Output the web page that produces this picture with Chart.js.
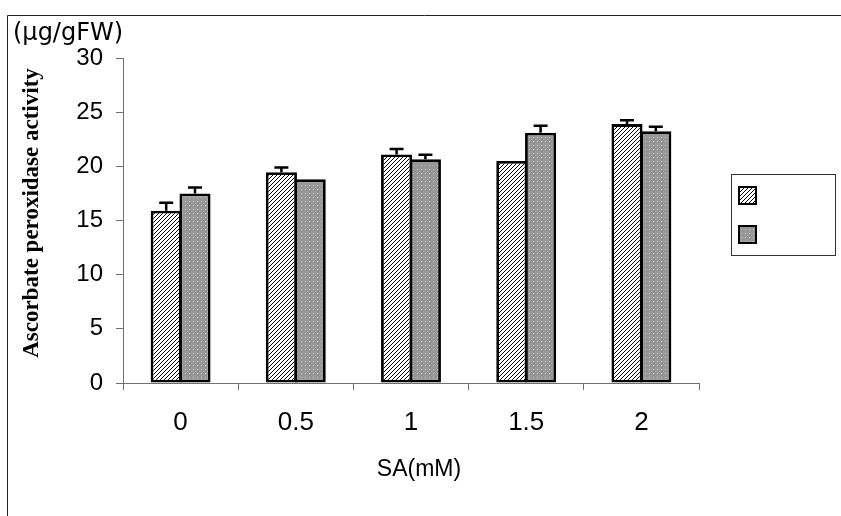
<!DOCTYPE html>
<html>
<head>
<meta charset="utf-8">
<script src="https://cdn.jsdelivr.net/npm/chart.js@4"></script>
<style>
  html, body { margin: 0; padding: 0; background: #fff; }
</style>
</head>
<body>
<canvas id="myChart" width="841" height="516"></canvas>
<script>
const categories = ['0', '0.5', '1', '1.5', '2'];
const seriesA = [15.9, 19.45, 21.1, 20.5, 23.9];   // hatched bars
const seriesB = [17.5, 18.8, 20.65, 23.1, 23.25];  // grey dotted bars
const errorA = [0.75, 0.45, 0.5, 0, 0.35];
const errorB = [0.55, 0, 0.42, 0.65, 0.4];
const yTicks = [0, 5, 10, 15, 20, 25, 30];
const unitLabel = '(\u00b5g/gFW)';
const yTitle = 'Ascorbate peroxidase activity';
const xTitle = 'SA(mM)';

function makeHatch() {
    const c = document.createElement('canvas');
    c.width = 4; c.height = 4;
    const g = c.getContext('2d');
    g.fillStyle = '#fff';
    g.fillRect(0, 0, 4, 4);
    g.strokeStyle = '#000';
    g.lineWidth = 1;
    g.beginPath();
    g.moveTo(-1, 5); g.lineTo(5, -1);
    g.moveTo(-1, 1); g.lineTo(1, -1);
    g.moveTo(3, 5); g.lineTo(5, 3);
    g.stroke();
    return g.createPattern(c, 'repeat');
}

function makeDots() {
    const c = document.createElement('canvas');
    c.width = 4; c.height = 4;
    const g = c.getContext('2d');
    g.fillStyle = '#979797';
    g.fillRect(0, 0, 4, 4);
    g.fillStyle = '#c4c4c4';
    g.fillRect(1, 1, 1, 1);
    return g.createPattern(c, 'repeat');
}

const hatch = makeHatch();
const dots = makeDots();

// error bars (upper half only) drawn through the y scale
const errorBars = {
    id: 'errorBars',
    afterDatasetsDraw(chart) {
        const ctx = chart.ctx;
        const y = chart.scales.y;
        const errs = [errorA, errorB];
        const vals = [seriesA, seriesB];
        ctx.save();
        ctx.strokeStyle = '#000';
        ctx.lineWidth = 2.5;
        for (let d = 0; d < 2; d++) {
            const meta = chart.getDatasetMeta(d);
            meta.data.forEach((bar, i) => {
                if (!errs[d][i]) return;
                const top = y.getPixelForValue(vals[d][i] + errs[d][i]);
                ctx.beginPath();
                ctx.moveTo(bar.x, bar.y);
                ctx.lineTo(bar.x, top);
                ctx.moveTo(bar.x - 7, top);
                ctx.lineTo(bar.x + 7, top);
                ctx.stroke();
            });
        }
        ctx.restore();
    }
};

// frame, legend box and free texts
const extras = {
    id: 'extras',
    afterDraw(chart) {
        const ctx = chart.ctx;
        ctx.save();

        ctx.strokeStyle = '#222';
        ctx.lineWidth = 1;
        ctx.beginPath();
        ctx.moveTo(7.5, 516);
        ctx.lineTo(7.5, 15.5);
        ctx.lineTo(841, 15.5);
        ctx.stroke();

        // legend
        ctx.strokeStyle = '#333';
        ctx.strokeRect(731.5, 174.5, 104, 81);
        const fills = [hatch, dots];
        [186, 225].forEach((sy, k) => {
            ctx.fillStyle = fills[k];
            ctx.fillRect(738, sy, 19, 19);
            ctx.strokeStyle = '#000';
            ctx.lineWidth = 2;
            ctx.strokeRect(739, sy + 1, 17, 17);
        });

        ctx.fillStyle = '#000';
        ctx.textBaseline = 'middle';

        ctx.font = '24px "DejaVu Sans"';
        ctx.textAlign = 'left';
        ctx.fillText(unitLabel, 13, 34);

        ctx.font = '23px "Liberation Sans"';
        ctx.textAlign = 'center';
        ctx.fillText(xTitle, 419, 470);

        ctx.translate(32, 213);
        ctx.rotate(-Math.PI / 2);
        ctx.font = 'bold 23px "Liberation Serif"';
        ctx.fillText(yTitle, 0, 0);

        ctx.restore();
    }
};

const data = {
    labels: categories,
    datasets: [{
        label: '',
        data: seriesA,
        backgroundColor: hatch,
        borderColor: '#000',
        borderWidth: 2.8,
        borderSkipped: false
    }, {
        label: '',
        data: seriesB,
        backgroundColor: dots,
        borderColor: '#000',
        borderWidth: 2.8,
        borderSkipped: false
    }]
};

const config = {
    type: 'bar',
    data: data,
    options: {
        responsive: false,
        animation: false,
        devicePixelRatio: 1,
        layout: { padding: { top: 58, right: 142, left: 0, bottom: 0 } },
        datasets: {
            bar: { categoryPercentage: 0.5, barPercentage: 1.08 }
        },
        plugins: {
            legend: { display: false },
            tooltip: { enabled: false }
        },
        scales: {
            x: {
                border: { color: '#707070', width: 1 },
                grid: { offset: true, drawOnChartArea: false, tickLength: 7, color: '#707070' },
                ticks: {
                    color: '#000',
                    padding: 17,
                    font: { family: 'Liberation Sans', size: 26 }
                },
                afterFit: s => { s.height = 133; }
            },
            y: {
                min: 0,
                max: 30,
                border: { color: '#707070', width: 1 },
                grid: { drawOnChartArea: false, tickLength: 7, color: '#707070' },
                ticks: {
                    color: '#000',
                    padding: 13,
                    font: { family: 'Liberation Sans', size: 24 }
                },
                afterBuildTicks: s => { s.ticks = yTicks.map(v => ({ value: v })); },
                afterFit: s => { s.width = 123; }
            }
        }
    },
    plugins: [errorBars, extras]
};

new Chart(document.getElementById('myChart'), config);
</script>
</body>
</html>
